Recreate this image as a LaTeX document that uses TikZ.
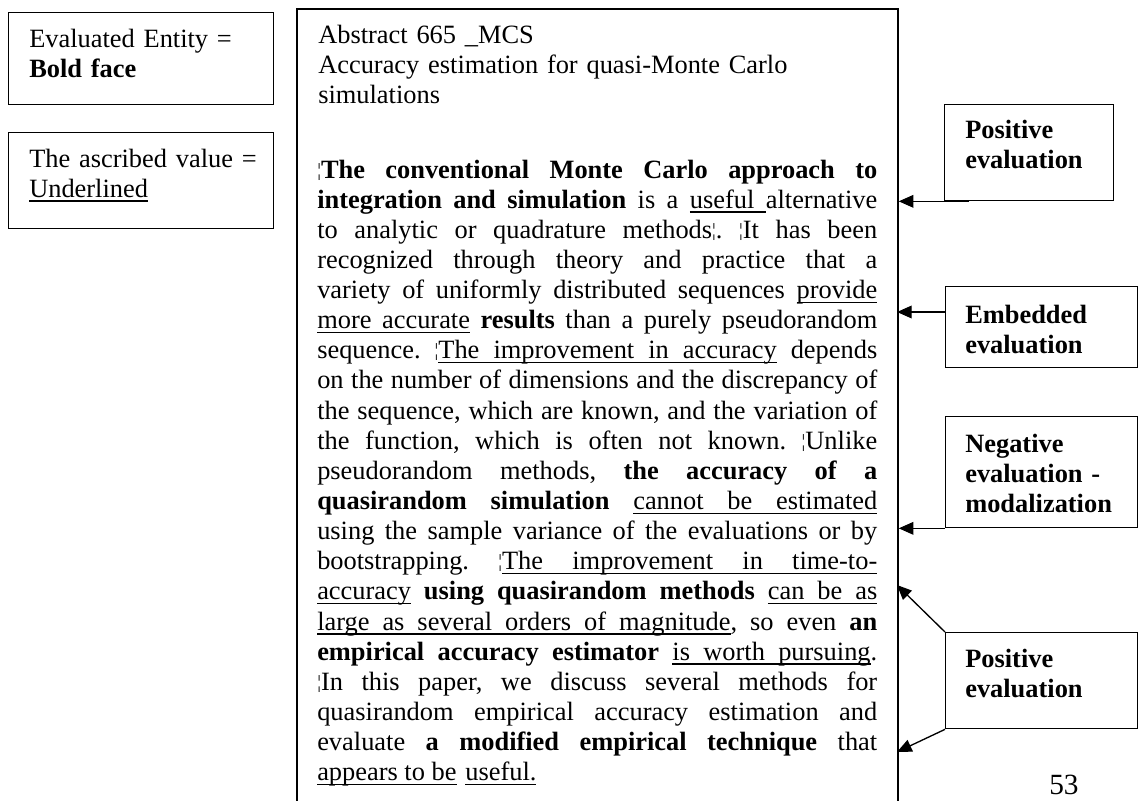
\documentclass[tikz,border=0pt]{standalone}
\usepackage{fontspec}
\setmainfont{Liberation Serif}
\usetikzlibrary{arrows.meta}

% underlined words and stretchable underlined spaces
\newcommand{\uw}[1]{\leavevmode\setbox0=\hbox{#1}\rlap{\vrule height -2.4pt depth 3.4pt width \wd0}\box0\relax}
\newcommand{\us}{\leaders\hrule height -2.4pt depth 3.4pt\hskip\fontdimen2\font plus \fontdimen3\font minus \fontdimen4\font\relax}
\def\ul#1{\ulx#1 \ulend}
\def\ulx#1 #2\ulend{\uw{#1}\ifx\relax#2\relax\else\us\ulx#2\ulend\fi}
\newcommand{\jline}[1]{\hbox to \linewidth{\spaceskip=0pt\xspaceskip=0pt #1}}
\newcommand{\bbar}{\raisebox{1.5pt}{\fontsize{14}{14}\selectfont ¦}}
\frenchspacing

\tikzset{
  box/.style={draw, line width=1pt, inner sep=0pt, anchor=north west},
  boxtext/.style={anchor=base west, inner sep=0pt, font=\fontsize{19.8}{22.6}\selectfont},
  evaltext/.style={boxtext, text width=125pt, font=\fontsize{19.8}{22.6}\selectfont\bfseries},
  evalarrow/.style={line width=1pt, -{Triangle[length=11pt,width=9.5pt]}},
}

\begin{document}
\begin{tikzpicture}[x=0.75pt,y=0.75pt,yscale=-1,xscale=1]
\useasboundingbox (0,0) rectangle (1141,800);

% legend boxes
\node (entity) [box, minimum width=198.75pt, minimum height=69pt] at (8,12) {};
\node (entity text) [boxtext, text width=190pt] at (29,47) {Evaluated Entity =\\\textbf{Bold face}};
\node (value) [box, minimum width=198.75pt, minimum height=72pt] at (8,132) {};
\node (value text) [boxtext, text width=190pt] at (29,167) {The ascribed value =\\\ul{Underlined}};

% abstract frame
\node (frame) [box, line width=1.3pt, minimum width=450.75pt, minimum height=622pt] at (296,8) {};
\node (title) [boxtext, text width=420pt] at (318,43) {Abstract 665 \_MCS\\Accuracy estimation for quasi-Monte Carlo\\simulations};
\node (abstract) [boxtext, text width=420pt] at (317,178) {%
\jline{\bbar\textbf{The conventional Monte Carlo approach to}}
\jline{\textbf{integration and simulation} is a \uw{useful}\us alternative}
\jline{to analytic or quadrature methods\bbar. \bbar It has been}
\jline{recognized through theory and practice that a}
\jline{variety of uniformly distributed sequences \ul{provide}}
\jline{\ul{more accurate} \textbf{results} than a purely pseudorandom}
\jline{sequence. \bbar\ul{The improvement in accuracy} depends}
\jline{on the number of dimensions and the discrepancy of}
\jline{the sequence, which are known, and the variation of}
\jline{the function, which is often not known. \bbar Unlike}
\jline{pseudorandom methods, \textbf{the accuracy of a}}
\jline{\textbf{quasirandom simulation} \ul{cannot be estimated}}
\jline{using the sample variance of the evaluations or by}
\jline{bootstrapping. \bbar\ul{The improvement in time-to-}}
\jline{\ul{accuracy} \textbf{using quasirandom methods} \ul{can be as}}
\jline{\ul{large as several orders of magnitude}, so even \textbf{an}}
\jline{\textbf{empirical accuracy estimator} \ul{is worth pursuing}.}
\jline{\bbar In this paper, we discuss several methods for}
\jline{quasirandom empirical accuracy estimation and}
\jline{evaluate \textbf{a modified empirical technique} that}
\hbox{\ul{appears to be} \ul{useful.}}};

% evaluation boxes
\node (pos1) [box, minimum width=126.75pt, minimum height=72pt] at (944,104) {};
\node (pos1 text) [evaltext] at (965,138) {Positive\\evaluation};
\node (emb) [box, minimum width=144pt, minimum height=60.75pt] at (945,286) {};
\node (emb text) [evaltext] at (965,323) {Embedded\\evaluation};
\node (neg) [box, minimum width=144pt, minimum height=83.25pt] at (945,416) {};
\node (neg text) [evaltext] at (965,452) {Negative\\evaluation -\\modalization};
\node (pos2) [box, minimum width=144pt, minimum height=72pt] at (945,632) {};
\node (pos2 text) [evaltext] at (965,667) {Positive\\evaluation};

\coordinate (t1) at (frame.east |- pos1.south west);
\coordinate (t2) at (897,312);
\coordinate (t3) at (frame.east |- neg.south west);
\coordinate (t4) at (897,585);
\coordinate (t5) at (897,752);

\draw [evalarrow] ([xshift=19pt]pos1.south west) -- (t1);
\draw [evalarrow] (emb.west |- t2) -- (t2);
\draw [evalarrow] (neg.south west) -- (t3);
\draw [evalarrow] (pos2.north west) -- (t4);
\draw [evalarrow] (pos2.south west) -- (t5);

% page number
\node (page) [anchor=base west, inner sep=0pt, font=\fontsize{22}{26}\selectfont] at (1049,794) {53};

\end{tikzpicture}
\end{document}
